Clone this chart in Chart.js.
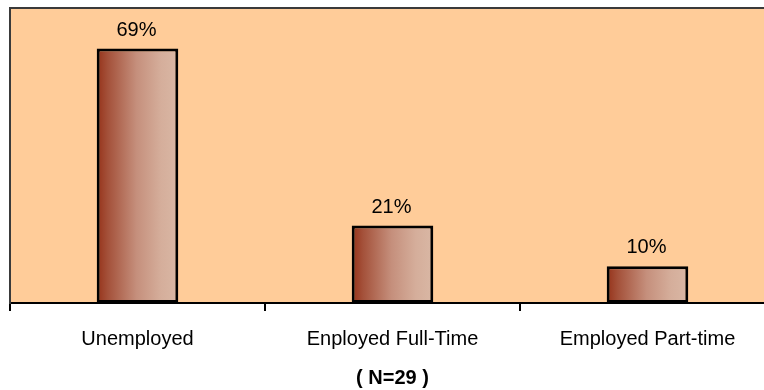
<!DOCTYPE html>
<html>
<head>
<meta charset="utf-8">
<title>Employment status</title>
<script src="https://cdn.jsdelivr.net/npm/chart.js@4/dist/chart.umd.min.js"></script>
<style>
  html, body { margin: 0; padding: 0; background: #ffffff; overflow: hidden; }
  #wrap { position: absolute; left: 0; top: 0; width: 776px; height: 390px; }
</style>
</head>
<body>
<div id="wrap"><canvas id="chart" width="776" height="390"></canvas></div>
<script>
// Employment status of respondents, percent of total
const categories = ['Unemployed', 'Enployed Full-Time', 'Employed Part-time'];
const percentValues = [69, 21, 10];
const sampleNote = '( N=29 )';
const yMax = 80;

const BAR_PCT = 0.32;
const FONT = '"Liberation Sans", Arial, sans-serif';

// Horizontal brown-to-rose gradient spanning each bar
function barGradient(ctx) {
  const chart = ctx.chart;
  const xScale = chart.scales.x;
  if (!chart.chartArea || !xScale || ctx.dataIndex === undefined) return '#b86a50';
  const cx = xScale.getPixelForValue(ctx.dataIndex) - 1;
  const step = categories.length > 1
    ? Math.abs(xScale.getPixelForValue(1) - xScale.getPixelForValue(0))
    : xScale.width;
  const half = step * BAR_PCT / 2;
  const g = chart.ctx.createLinearGradient(cx - half, 0, cx + half, 0);
  g.addColorStop(0, '#942f16');
  g.addColorStop(0.15, '#a4513a');
  g.addColorStop(0.5, '#c58f7c');
  g.addColorStop(0.8, '#d5ae9b');
  g.addColorStop(1, '#d9b7a4');
  return g;
}

// Peach plot background with a dark top edge
const plotBackground = {
  id: 'plotBackground',
  beforeDraw(chart) {
    const { ctx, chartArea: a } = chart;
    ctx.save();
    ctx.fillStyle = '#ffcc99';
    ctx.fillRect(a.left, a.top, a.right - a.left, a.bottom - a.top);
    ctx.strokeStyle = '#3a3a3a';
    ctx.lineWidth = 2;
    ctx.beginPath();
    ctx.moveTo(a.left - 1, a.top);
    ctx.lineTo(a.right + 1, a.top);
    ctx.stroke();
    ctx.restore();
  }
};

// Percentage text above each bar
const valueLabels = {
  id: 'valueLabels',
  afterDatasetsDraw(chart) {
    const { ctx } = chart;
    const meta = chart.getDatasetMeta(0);
    ctx.save();
    ctx.font = '20px ' + FONT;
    ctx.fillStyle = '#000000';
    ctx.textAlign = 'center';
    ctx.textBaseline = 'alphabetic';
    meta.data.forEach((bar, i) => {
      ctx.fillText(percentValues[i] + '%', bar.x - 1, bar.y - 13);
    });
    ctx.restore();
  }
};

new Chart(document.getElementById('chart'), {
  type: 'bar',
  data: {
    labels: categories,
    datasets: [{
      data: percentValues,
      backgroundColor: barGradient,
      borderColor: '#000000',
      borderWidth: 3,
      borderSkipped: false,
      barPercentage: BAR_PCT,
      categoryPercentage: 1
    }]
  },
  options: {
    responsive: false,
    animation: false,
    events: [],
    layout: { padding: { left: 10, top: 8, right: 1, bottom: 0 } },
    plugins: {
      legend: { display: false },
      tooltip: { enabled: false }
    },
    scales: {
      x: {
        offset: true,
        grid: {
          display: true,
          offset: true,
          drawOnChartArea: false,
          drawTicks: true,
          tickLength: 8,
          color: '#000000',
          lineWidth: 2
        },
        border: { display: true, color: '#000000', width: 2 },
        ticks: {
          color: '#000000',
          font: { family: FONT, size: 20 },
          padding: 16,
          maxRotation: 0,
          autoSkip: false
        },
        title: {
          display: true,
          text: sampleNote,
          color: '#000000',
          font: { family: FONT, size: 20, weight: 'bold' },
          padding: { top: 0, bottom: 0 }
        },
        afterFit(scale) { scale.height = 87; }
      },
      y: {
        min: 0,
        max: yMax,
        grid: { display: false },
        border: { display: true, color: '#3a3a3a', width: 2 },
        ticks: { display: false },
        afterFit(scale) { scale.width = 0; }
      }
    }
  },
  plugins: [plotBackground, valueLabels]
});
</script>
</body>
</html>
